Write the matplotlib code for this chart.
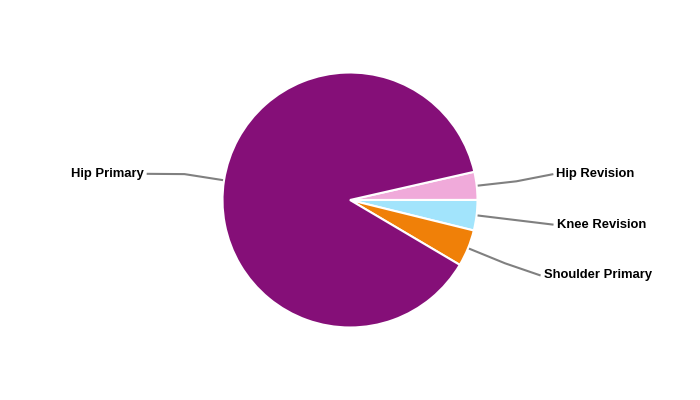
import numpy as np
import matplotlib
matplotlib.use("Agg")
import matplotlib.pyplot as plt

# ---- data ----
categories = ["Hip Revision", "Knee Revision", "Shoulder Primary", "Hip Primary"]
values = [3.55, 3.85, 4.65, 87.95]
colors = ["#F0AADA", "#A2E4FC", "#F08008", "#850F78"]

# ---- layout (pixels) ----
W, H = 700, 400
cx, cy = 350, 200
radius = 127.5
start_angle = 12.8
label_R = 205
elbow_out = 40
label_nudge_up = [3, 0, 2, -5.5]   # vertical pixel nudges (up positive)

fig = plt.figure(figsize=(7, 4), dpi=100)
ax = fig.add_axes([0, 0, 1, 1])

wedges, _ = ax.pie(values, colors=colors, startangle=start_angle, counterclock=False,
                   center=(cx, H - cy), radius=radius,
                   wedgeprops=dict(edgecolor="white", linewidth=1.5), frame=True)
ax.set_xlim(0, W)
ax.set_ylim(0, H)
ax.set_aspect("equal")
ax.axis("off")

for w, name, nud in zip(wedges, categories, label_nudge_up):
    mid = np.deg2rad((w.theta1 + w.theta2) / 2)
    c, s = np.cos(mid), np.sin(mid)
    x0, y0 = cx + (radius + 1) * c, (H - cy) + (radius + 1) * s
    x1, y1 = cx + (radius + elbow_out) * c, (H - cy) + (radius + elbow_out) * s
    dy = label_R * s + nud
    dx = np.sqrt(label_R ** 2 - dy ** 2) * np.sign(c)
    x2, y2 = cx + dx, (H - cy) + dy
    ax.plot([x0, x1, x2], [y0, y1, y2], color="#808080", lw=1.5, solid_capstyle="butt")
    if c >= 0:
        ax.text(x2 + 3, y2, name, ha="left", va="center", fontsize=9.4,
                fontweight="bold", family="Liberation Sans", color="black")
    else:
        ax.text(x2 - 3, y2, name, ha="right", va="center", fontsize=9.4,
                fontweight="bold", family="Liberation Sans", color="black")

fig.savefig("out.png", dpi=100, facecolor="white")
